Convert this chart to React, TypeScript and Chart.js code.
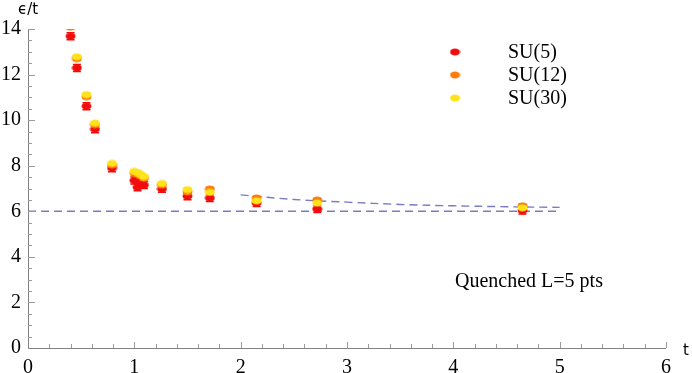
import React, { useEffect, useRef } from "react";
import { Chart, registerables } from "chart.js";

Chart.register(...registerables);

// ---- data ----
const tValues = [0.4, 0.46, 0.55, 0.63, 0.79, 1.0, 1.03, 1.06, 1.09, 1.26, 1.5, 1.71, 2.15, 2.72, 4.65];
const su5 = [13.68, 12.29, 10.61, 9.6, 7.89, 7.35, 7.05, 7.25, 7.15, 6.98, 6.66, 6.58, 6.36, 6.1, 6.03];
const su12 = [14.08, 12.7, 11.03, 9.8, 8.03, 7.68, 7.62, 7.55, 7.45, 7.15, 6.85, 6.97, 6.58, 6.49, 6.24];
const su30 = [14.35, 12.78, 11.12, 9.87, 8.1, 7.75, 7.7, 7.62, 7.52, 7.22, 6.95, 6.83, 6.46, 6.36, 6.15];
const su5Err = [0.15, 0.15, 0.15, 0.15, 0.15, 0.15, 0.15, 0.15, 0.15, 0.15, 0.15, 0.15, 0.15, 0.15, 0.15];
const su12Err = [0.08, 0.08, 0.08, 0.08, 0.08, 0.08, 0.08, 0.08, 0.08, 0.08, 0.08, 0.08, 0.08, 0.08, 0.08];
const su30Err = [0.06, 0.06, 0.06, 0.06, 0.06, 0.06, 0.06, 0.06, 0.06, 0.06, 0.06, 0.06, 0.06, 0.06, 0.06];
const limitT = [0, 5];
const limitE = [6, 6];
const fitT = [2.0, 2.5, 3.0, 3.5, 4.0, 4.5, 5.0];
const fitE = [6.72, 6.52, 6.4, 6.3, 6.24, 6.2, 6.17];
const seriesNames = ["SU(5)", "SU(12)", "SU(30)"];
const seriesColors = ["#f20d0d", "#ff7b0a", "#ffe21a"];
const xTickValues = [0, 1, 2, 3, 4, 5, 6];
const yTickValues = [0, 2, 4, 6, 8, 10, 12, 14];
const annotation = "Quenched L=5 pts";
const yTitle = "\u03f5/t";
const xTitle = "t";

const SERIF = "'Liberation Serif', 'Times New Roman', serif";
const SANS = "'DejaVu Sans', sans-serif";
const LINE_COLOR = "rgba(100,100,185,0.85)";

function makeMarker(color: string) {
  const c = document.createElement("canvas");
  c.width = 11;
  c.height = 8;
  const g = c.getContext("2d")!;
  g.fillStyle = color;
  g.beginPath();
  g.ellipse(5.5, 4, 5, 3.4, 0, 0, Math.PI * 2);
  g.fill();
  return c;
}

export default function App() {
  const ref = useRef<HTMLCanvasElement | null>(null);

  useEffect(() => {
    if (!ref.current) return;
    const markers = seriesColors.map(makeMarker);
    const errs = [su5Err, su12Err, su30Err];
    const vals = [su5, su12, su30];

    const pts = (ys: number[]) => tValues.map((t, i) => ({ x: t, y: ys[i] }));

    const errorBars = {
      id: "errorBars",
      beforeDatasetDraw(chart: any, args: any) {
        const ds = chart.data.datasets[args.index];
        if (ds.seriesIndex === undefined) return;
        const si = ds.seriesIndex as number;
        const { ctx, chartArea, scales } = chart;
        ctx.save();
        ctx.beginPath();
        ctx.rect(chartArea.left, chartArea.top, chartArea.right - chartArea.left, chartArea.bottom - chartArea.top);
        ctx.clip();
        ctx.strokeStyle = seriesColors[si];
        ctx.lineWidth = 1.5;
        vals[si].forEach((v, i) => {
          const px = scales.x.getPixelForValue(tValues[i]);
          const y1 = scales.y.getPixelForValue(v + errs[si][i]);
          const y2 = scales.y.getPixelForValue(v - errs[si][i]);
          ctx.beginPath();
          ctx.moveTo(px, y1);
          ctx.lineTo(px, y2);
          ctx.moveTo(px - 4, y1);
          ctx.lineTo(px + 4, y1);
          ctx.moveTo(px - 4, y2);
          ctx.lineTo(px + 4, y2);
          ctx.stroke();
        });
        ctx.restore();
      },
    };

    const decor = {
      id: "decor",
      afterDraw(chart: any) {
        const { ctx, chartArea, scales } = chart;
        const { left, right, top, bottom } = chartArea;
        ctx.save();
        // axes
        ctx.strokeStyle = "#808080";
        ctx.lineWidth = 1;
        ctx.beginPath();
        ctx.moveTo(Math.round(left) + 0.5, top);
        ctx.lineTo(Math.round(left) + 0.5, Math.round(bottom) + 0.5);
        ctx.lineTo(right, Math.round(bottom) + 0.5);
        ctx.stroke();
        // ticks (inward)
        ctx.strokeStyle = "#9a9a9a";
        ctx.beginPath();
        for (let k = 1; k <= 30; k++) {
          const v = k * 0.2;
          const px = Math.round(scales.x.getPixelForValue(v)) + 0.5;
          const len = k % 5 === 0 ? 6 : 4;
          ctx.moveTo(px, bottom);
          ctx.lineTo(px, bottom - len);
        }
        for (let k = 1; k <= 28; k++) {
          const v = k * 0.5;
          const py = Math.round(scales.y.getPixelForValue(v)) + 0.5;
          const len = k % 4 === 0 ? 7 : 4;
          ctx.moveTo(left, py);
          ctx.lineTo(left + len, py);
        }
        ctx.stroke();

        // axis titles
        ctx.fillStyle = "#000";
        ctx.font = `15px ${SANS}`;
        ctx.textAlign = "center";
        ctx.textBaseline = "middle";
        ctx.fillText(yTitle, left, 10);
        ctx.textAlign = "left";
        ctx.fillText(xTitle, 683, 351);

        // legend
        ctx.font = `20px ${SERIF}`;
        const legendY = [52, 75, 98];
        seriesNames.forEach((n, i) => {
          ctx.drawImage(markers[i], 449.5, legendY[i] - 4);
          ctx.fillText(n, 508, legendY[i] + 1);
        });

        // annotation
        ctx.fillText(annotation, 455, 282);
        ctx.restore();
      },
    };

    const chart = new Chart(ref.current, {
      type: "scatter",
      data: {
        datasets: [
          { label: seriesNames[2], seriesIndex: 2, data: pts(su30), pointStyle: markers[2], clip: 0 } as any,
          { label: seriesNames[1], seriesIndex: 1, data: pts(su12), pointStyle: markers[1], clip: 0 } as any,
          { label: seriesNames[0], seriesIndex: 0, data: pts(su5), pointStyle: markers[0], clip: 0 } as any,
          {
            label: "fit",
            data: fitT.map((t, i) => ({ x: t, y: fitE[i] })),
            showLine: true,
            pointRadius: 0,
            borderColor: LINE_COLOR,
            borderWidth: 1.4,
            borderDash: [8, 5],
            tension: 0.4,
            fill: false,
          },
          {
            label: "limit",
            data: limitT.map((t, i) => ({ x: t, y: limitE[i] })),
            showLine: true,
            pointRadius: 0,
            borderColor: LINE_COLOR,
            borderWidth: 1.4,
            borderDash: [8, 5],
            fill: false,
          },
        ],
      },
      options: {
        responsive: false,
        animation: false,
        layout: { padding: { top: 29, right: 26, left: 0, bottom: 0 } },
        plugins: { legend: { display: false }, tooltip: { enabled: false } },
        scales: {
          x: {
            type: "linear",
            min: 0,
            max: 6,
            grid: { display: false, drawTicks: false },
            border: { display: false },
            afterBuildTicks: (s: any) => {
              s.ticks = xTickValues.map((v) => ({ value: v }));
            },
            afterFit: (s: any) => {
              s.height = 25;
            },
            ticks: {
              color: "#000",
              padding: 8,
              font: { family: SERIF, size: 20 },
              callback: (v: any) => String(v),
            },
          },
          y: {
            type: "linear",
            min: 0,
            max: 14,
            grid: { display: false, drawTicks: false },
            border: { display: false },
            afterBuildTicks: (s: any) => {
              s.ticks = yTickValues.map((v) => ({ value: v }));
            },
            afterFit: (s: any) => {
              s.width = 28;
            },
            ticks: {
              color: "#000",
              padding: 7,
              font: { family: SERIF, size: 20 },
              callback: (v: any) => String(v),
            },
          },
        },
      } as any,
      plugins: [errorBars, decor],
    });
    return () => chart.destroy();
  }, []);

  return (
    <div style={{ position: "fixed", left: 0, top: 0, width: 692, height: 373, background: "#fff" }}>
      <canvas ref={ref} width={692} height={373} style={{ display: "block" }} />
    </div>
  );
}
